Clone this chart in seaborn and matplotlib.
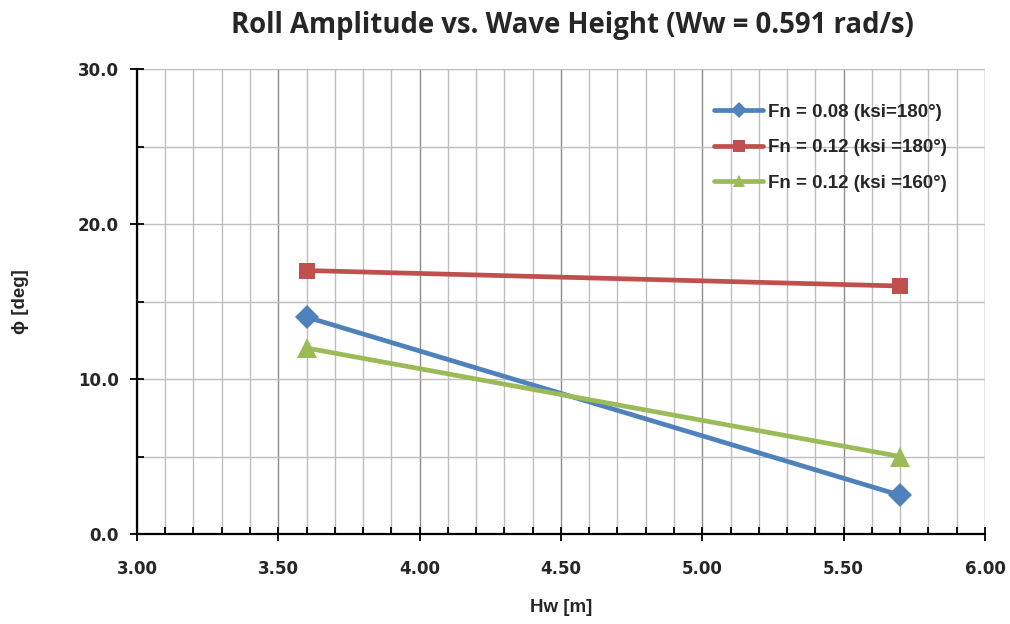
import matplotlib
matplotlib.use("Agg")
import matplotlib.pyplot as plt
from matplotlib.ticker import MultipleLocator
import numpy as np
import pandas as pd
import seaborn as sns

# Wave heights and roll amplitudes per condition
hw = [3.60, 5.70]
series_names = ["Fn = 0.08 (ksi=180°)", "Fn = 0.12 (ksi =180°)", "Fn = 0.12 (ksi =160°)"]
roll_fn008_180 = [14.0, 2.5]
roll_fn012_180 = [17.0, 16.0]
roll_fn012_160 = [12.0, 5.0]

x_ticks = [3.00, 3.50, 4.00, 4.50, 5.00, 5.50, 6.00]
y_ticks = [0.0, 10.0, 20.0, 30.0]

df = pd.DataFrame({
    "Hw": hw * 3,
    "phi": roll_fn008_180 + roll_fn012_180 + roll_fn012_160,
    "case": [series_names[0]] * 2 + [series_names[1]] * 2 + [series_names[2]] * 2,
})

colors = ["#4F81BD", "#C0504D", "#9BBB59"]
palette = dict(zip(series_names, colors))
markers = dict(zip(series_names, ["D", "s", "^"]))

sns.set_theme(style="white")
plt.rcParams["font.family"] = ["DejaVu Sans"]

fig = plt.figure(figsize=(10.1, 6.24), dpi=100)
ax = fig.add_axes([0.1356, 0.1442, 0.8396, 0.7452])

sns.lineplot(data=df, x="Hw", y="phi", hue="case", style="case",
             palette=palette, markers=markers, dashes=False,
             linewidth=3.4, markersize=12, markeredgewidth=0,
             sort=False, ax=ax)
for line in ax.lines:
    if line.get_marker() == "^":
        line.set_markersize(14)

ax.set_xlim(3.0, 6.0)
ax.set_ylim(0.0, 30.0)
ax.set_xticks(x_ticks)
ax.set_yticks(y_ticks)
ax.set_xticklabels([f"{v:.2f}" for v in x_ticks], fontsize=12, fontweight="bold")
ax.set_yticklabels([f"{v:.1f}" for v in y_ticks], fontsize=12, fontweight="bold")
ax.xaxis.set_minor_locator(MultipleLocator(0.1))
ax.yaxis.set_minor_locator(MultipleLocator(5))

# gridlines: major darker, minor lighter
ax.grid(which="major", axis="x", color="#8C8C8C", linewidth=1.0)
ax.grid(which="minor", axis="x", color="#BEBEBE", linewidth=1.0)
ax.grid(which="both", axis="y", color="#BEBEBE", linewidth=1.0)
ax.set_axisbelow(True)

for side in ["top", "right"]:
    ax.spines[side].set_visible(False)
for side in ["left", "bottom"]:
    ax.spines[side].set_color("black")
    ax.spines[side].set_linewidth(1.6)

ax.tick_params(bottom=True, left=True, which="both")
ax.tick_params(which="major", direction="inout", length=10, width=1.3, color="black", pad=14)
ax.tick_params(which="minor", direction="in", length=5, width=1.3, color="black")
ax.tick_params(axis="y", which="major", pad=8)

label_font = {"family": ["Liberation Sans", "DejaVu Sans"], "weight": "bold", "size": 13.5}
ax.set_xlabel("Hw [m]", fontdict=label_font, labelpad=15)
ax.set_ylabel("ϕ [deg]", fontdict=label_font, labelpad=35)

fig.suptitle("Roll Amplitude vs. Wave Height (Ww = 0.591 rad/s)",
             fontsize=19.8, fontweight="bold", family=["Open Sans", "DejaVu Sans"],
             x=0.567, y=0.983)

leg = ax.legend(loc="upper right", bbox_to_anchor=(0.975, 0.962), frameon=False,
                prop={"family": "Liberation Sans", "weight": "bold", "size": 13.5},
                handlelength=2.6, labelspacing=0.98, handletextpad=0.27)
for h in leg.legend_handles:
    h.set_markersize(8)

fig.savefig("out.png", dpi=100, facecolor="white")
